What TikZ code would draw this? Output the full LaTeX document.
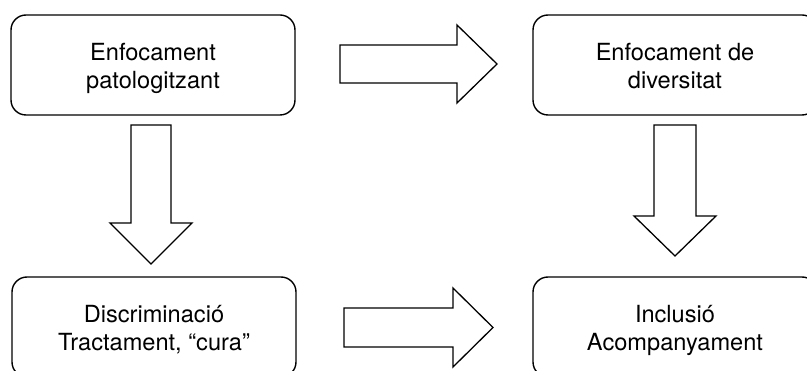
\documentclass[tikz,border=0pt]{standalone}
\usepackage{fontspec}
\setmainfont{TeX Gyre Heros}
\begin{document}
\begin{tikzpicture}[x=1pt,y=-1pt,
  box/.style={draw, line width=1.4pt, rounded corners=15pt, minimum width=284pt, minimum height=100pt, inner sep=0pt},
  txt/.style={align=center, inner sep=0pt, font=\fontsize{23.6}{28}\selectfont},
  blockarrow/.style={draw, line width=1.3pt, line join=miter, fill=white}]
\useasboundingbox (0,0) rectangle (807,371);
\clip (0,0) rectangle (807,371);
\node[box] (b1) at (153,65) {};
\node[box] (b2) at (675,65) {};
\node[box] (b3) at (154,327) {};
\node[box] (b4) at (675,327) {};
\node[txt] (t1) at ([yshift=-3.9pt]b1.center) {\strut Enfocament\\\strut patologitzant};
\node[txt] (t2) at ([yshift=-3.9pt]b2.center) {\strut Enfocament de\\\strut diversitat};
\node[txt] (t3) at ([yshift=-3.9pt]b3.center) {\strut Discriminació\\\strut Tractament, “cura”};
\node[txt] (t4) at ([yshift=-3.9pt]b4.center) {\strut Inclusió\\\strut Acompanyament};
% block arrows
\draw[blockarrow] (340,45) -- (457,45) -- (457,25) -- (497,64) -- (457,103) -- (457,83) -- (340,83) -- cycle;
\draw[blockarrow] (344,308) -- (453,308) -- (453,288) -- (493,327.5) -- (453,367) -- (453,347) -- (344,347) -- cycle;
\draw[blockarrow] (131,125) -- (171,125) -- (171,223) -- (192,223) -- (151,264) -- (110,223) -- (131,223) -- cycle;
\draw[blockarrow] (654,125) -- (696,125) -- (696,216) -- (716,216) -- (675,256) -- (634,216) -- (654,216) -- cycle;
\end{tikzpicture}
\end{document}
